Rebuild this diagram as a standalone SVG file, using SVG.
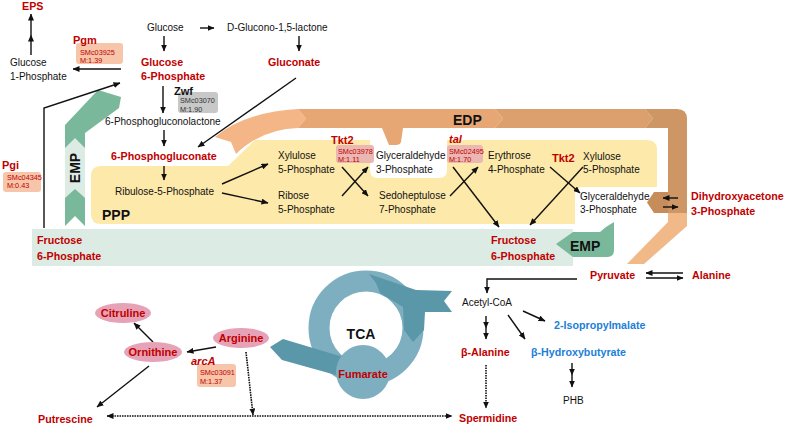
<svg xmlns="http://www.w3.org/2000/svg" width="787" height="426" viewBox="0 0 787 426">
<defs>
<style>
text{font-family:"Liberation Sans",Arial,sans-serif;font-size:10px;fill:#111}
.r{font-weight:bold;fill:#C00000;font-size:10.7px}
.bl{font-weight:bold;fill:#1C80D8;font-size:10.7px}
.en{font-weight:bold;fill:#C00000;font-size:11px}
.it{font-style:italic}
.sm{font-size:7.3px;fill:#C00000}
.smg{font-size:7.3px;fill:#333}
.big{font-weight:bold;font-size:14px;fill:#111}
.c{text-anchor:middle}
.ln{fill:none;stroke:#111;stroke-width:1.4}
.dot{fill:none;stroke:#111;stroke-width:1.6;stroke-dasharray:1.6 0.9}
.box{fill:#F7C5AA}
.pbox{fill:#EBB7B3}
.ell{fill:#E6A2B6}
</style>
<marker id="ah" markerUnits="userSpaceOnUse" markerWidth="7" markerHeight="6" refX="6.5" refY="3" orient="auto">
<path d="M0,0 L7,3 L0,6 Z" fill="#111"/>
</marker>
<marker id="ahs" markerUnits="userSpaceOnUse" markerWidth="7" markerHeight="6" refX="0.5" refY="3" orient="auto">
<path d="M7,0 L0,3 L7,6 Z" fill="#111"/>
</marker>
</defs>

<g id="ppp-region">
<path d="M91,176 Q91,166 101,166 L228,166 L255,140 L370,140 L370,170 Q370,178 378,178 L439,178 Q447,178 447,170 L447,140 L647,140 Q657,140 657,150 L657,187 L583,187 Q575,187 575,195 L575,224 L101,224 Q91,224 91,214 Z" fill="#FDE9A9"/>
</g>
<g id="f6p-band">
<rect x="32" y="229" width="541" height="37" fill="#DCEBE3"/>
</g>

<g id="edp-band">
<path d="M215,137 Q245,112 298,109 L306,118.5 L298,128 Q262,129 236,154 L231,142 Z" fill="#F4B686"/>
<path d="M298,109 L495,109 L503,118.5 L495,128 L403,128 L401,142 Q400,145 396,145 L389,145 L382,128 L298,128 L306,118.5 Z" fill="#E6A775"/>
<path d="M495,109 L645,109 L653,118.5 L645,128 L495,128 L503,118.5 Z" fill="#DBA06D"/>
<path d="M645,109 L677,109 Q687,109 687,119 L687,213 L668,213 L668,128 L645,128 L653,118.5 Z" fill="#CE9664"/>
<path d="M668,192 L654,192 L647,202.5 L654,213 L668,213 Z" fill="#C68C59"/>
<path d="M668,213 L687,213 L687,226 L644,264 L627,264 L668,222 Z" fill="#F1B888"/>
<text class="big" x="453" y="125">EDP</text>
</g>

<g id="emp-left">
<path d="M65,226 L65,125 L98,90 L121,97 L119,108 L85,133 L85,226 L75,216 Z" fill="#7AB89B"/>
<path d="M65,148 L75,138 L85,148 L85,198 L75,189 L65,198 Z" fill="#DCEBE3"/>
<text class="big c" transform="translate(80,168) rotate(-90)" x="0" y="0">EMP</text>
</g>

<g id="emp-right">
<path d="M556,244 L573,232 L600,232 L606,227 L614,222 L614,250 Q614,257 607,257 L573,257 Z" fill="#7AB89B"/>
<text class="big" x="570" y="251">EMP</text>
</g>

<g id="tca">
<circle cx="366" cy="328" r="47" fill="none" stroke="#7EAFC0" stroke-width="21"/>
<path d="M369,274 L416,290 L452,291 L444,301 L452,312 L425,312 L424,330 L413,342 L404,330 L403,307 L380,293 L376,283 Z" fill="#5A97A8"/>
<path d="M270,347 L283,339 L343,357 L343,377 L282,360 Z" fill="#5A97A8"/>
<circle cx="363" cy="372" r="27" fill="#7EAFC0"/>
<text class="big c" x="361" y="339">TCA</text>
<text class="en c" x="363" y="378">Fumarate</text>
</g>

<g id="connectors">
<polyline class="ln" points="31,55 31,35 31,14" marker-mid="url(#ah)" marker-end="url(#ah)"/>
<line class="ln" x1="121" y1="69" x2="73" y2="69" marker-end="url(#ah)"/>
<line class="ln" x1="200" y1="28" x2="214" y2="28" marker-end="url(#ah)"/>
<line class="ln" x1="164" y1="36" x2="164" y2="51" marker-end="url(#ah)"/>
<line class="ln" x1="299" y1="36" x2="299" y2="51" marker-end="url(#ah)"/>
<polyline class="ln" points="44,228 44,108 120,83" marker-end="url(#ah)"/>
<line class="ln" x1="163" y1="86" x2="163" y2="113" marker-end="url(#ah)"/>
<line class="ln" x1="164" y1="130" x2="164" y2="146" marker-end="url(#ah)"/>
<line class="ln" x1="296" y1="78" x2="198" y2="147" marker-end="url(#ah)"/>
<line class="ln" x1="164" y1="166" x2="164" y2="180" marker-end="url(#ah)"/>
<line class="ln" x1="222" y1="184" x2="268" y2="164" marker-end="url(#ah)"/>
<line class="ln" x1="222" y1="193" x2="268" y2="203" marker-end="url(#ah)"/>
<line class="ln" x1="342" y1="167" x2="368" y2="196" marker-end="url(#ah)"/>
<line class="ln" x1="342" y1="196" x2="368" y2="167" marker-end="url(#ah)"/>
<line class="ln" x1="453" y1="167" x2="499" y2="227" marker-end="url(#ah)"/>
<line class="ln" x1="450" y1="196" x2="478" y2="167" marker-end="url(#ah)"/>
<line class="ln" x1="550" y1="167" x2="580" y2="193" marker-end="url(#ah)"/>
<line class="ln" x1="583" y1="167" x2="530" y2="225" marker-end="url(#ah)"/>
<line class="ln" x1="678" y1="198" x2="663" y2="198" marker-end="url(#ah)"/>
<line class="ln" x1="663" y1="207" x2="678" y2="207" marker-end="url(#ah)"/>
<line class="ln" x1="683" y1="273" x2="646" y2="273" marker-end="url(#ah)" stroke-width="1.8"/>
<line class="ln" x1="646" y1="278" x2="683" y2="278" marker-end="url(#ah)" stroke-width="1.8"/>
<polyline class="ln" points="577,279 487,279 487,293" marker-end="url(#ah)"/>
<polyline class="ln" points="486,316 486,328 486,339" marker-mid="url(#ah)" marker-end="url(#ah)"/>
<line class="ln" x1="508" y1="315" x2="525" y2="339" marker-end="url(#ah)"/>
<line class="ln" x1="523" y1="311" x2="545" y2="321" marker-end="url(#ah)"/>
<polyline class="ln" points="572,363 572,375 572,387" marker-mid="url(#ah)" marker-end="url(#ah)"/>
<line class="dot" x1="486" y1="365" x2="486" y2="408" marker-end="url(#ah)"/>
<line class="dot" x1="107" y1="416" x2="452" y2="416" marker-start="url(#ahs)" marker-end="url(#ah)"/>
<line class="dot" x1="246" y1="352" x2="253" y2="415" marker-end="url(#ah)"/>
<line class="ln" x1="149" y1="366" x2="97" y2="407" marker-end="url(#ah)"/>
<line class="ln" x1="153" y1="342" x2="134" y2="323" marker-end="url(#ah)"/>
<line class="ln" x1="216" y1="347" x2="187" y2="352" marker-end="url(#ah)"/>
</g>

<g id="eps"><text class="r" x="22" y="10">EPS</text></g>
<g id="glucose-1p"><text x="10" y="66">Glucose</text><text x="10" y="80">1-Phosphate</text></g>
<g id="pgm">
<rect class="box" x="76" y="43" width="47" height="21" rx="3"/>
<text class="en" x="73" y="44">Pgm</text>
<text class="sm" x="80" y="55">SMc03925</text><text class="sm" x="80" y="63">M:1.39</text>
</g>
<g id="glucose"><text x="147" y="31">Glucose</text></g>
<g id="glucono-lactone"><text x="227" y="31">D-Glucono-1,5-lactone</text></g>
<g id="glucose-6p"><text class="r" x="141" y="66">Glucose</text><text class="r" x="141" y="80">6-Phosphate</text></g>
<g id="gluconate"><text class="r" x="268" y="66">Gluconate</text></g>
<g id="zwf">
<rect x="178" y="92" width="40" height="21" rx="3" fill="#C8C8C8"/>
<text style="font-weight:bold;font-size:11px" x="174" y="95">Zwf</text>
<text class="smg" x="180" y="103">SMc03070</text><text class="smg" x="180" y="112">M:1.90</text>
</g>
<g id="phosphogluconolactone"><text x="105" y="125">6-Phosphogluconolactone</text></g>
<g id="phosphogluconate"><text class="r" x="111" y="160">6-Phosphogluconate</text></g>
<g id="ribulose-5p"><text x="115" y="195">Ribulose-5-Phosphate</text></g>
<g id="ppp-label"><text class="big" x="102" y="220">PPP</text></g>
<g id="pgi">
<rect class="box" x="3" y="172" width="38" height="20" rx="3"/>
<text class="en" x="2" y="169">Pgi</text>
<text class="sm" x="7" y="180">SMc04345</text><text class="sm" x="7" y="188">M:0.43</text>
</g>
<g id="fructose-6p-left"><text class="r" x="37" y="244">Fructose</text><text class="r" x="37" y="260">6-Phosphate</text></g>
<g id="xylulose-5p"><text x="278" y="159">Xylulose</text><text x="278" y="173">5-Phosphate</text></g>
<g id="ribose-5p"><text x="278" y="199">Ribose</text><text x="278" y="213">5-Phosphate</text></g>
<g id="tkt2-a">
<rect class="pbox" x="336" y="145" width="38" height="18" rx="3"/>
<text class="en" x="331" y="144">Tkt2</text>
<text class="sm" x="338" y="154">SMc03978</text><text class="sm" x="338" y="162">M:1.11</text>
</g>
<g id="g3p-mid"><text x="376" y="159">Glyceraldehyde</text><text x="376" y="173">3-Phosphate</text></g>
<g id="sedoheptulose-7p"><text x="379" y="199">Sedoheptulose</text><text x="379" y="213">7-Phosphate</text></g>
<g id="tal">
<rect class="pbox" x="447" y="145" width="36" height="18" rx="3"/>
<text class="en it" x="449" y="143">tal</text>
<text class="sm" x="449" y="154">SMc02495</text><text class="sm" x="449" y="162">M:1.70</text>
</g>
<g id="erythrose-4p"><text x="488" y="159">Erythrose</text><text x="488" y="173">4-Phosphate</text></g>
<g id="tkt2-b"><text class="en" x="552" y="162">Tkt2</text></g>
<g id="xylulose-5p-b"><text x="583" y="160">Xylulose</text><text x="583" y="173">5-Phosphate</text></g>
<g id="g3p-right"><text x="580" y="200">Glyceraldehyde</text><text x="580" y="213">3-Phosphate</text></g>
<g id="dhap"><text class="r" x="691" y="200">Dihydroxyacetone</text><text class="r" x="691" y="215">3-Phosphate</text></g>
<g id="fructose-6p-right"><text class="r" x="491" y="244">Fructose</text><text class="r" x="491" y="260">6-Phosphate</text></g>
<g id="pyruvate"><text class="r" x="590" y="279">Pyruvate</text></g>
<g id="alanine"><text class="r" x="692" y="279">Alanine</text></g>
<g id="acetyl-coa"><text x="462" y="306">Acetyl-CoA</text></g>
<g id="isopropylmalate"><text class="bl" x="554" y="329">2-Isopropylmalate</text></g>
<g id="beta-alanine"><text class="r" x="461" y="356">β-Alanine</text></g>
<g id="beta-hydroxybutyrate"><text class="bl" x="531" y="356">β-Hydroxybutyrate</text></g>
<g id="phb"><text x="563" y="404">PHB</text></g>
<g id="spermidine"><text class="r" x="459" y="422">Spermidine</text></g>
<g id="putrescine"><text class="r" x="38" y="423">Putrescine</text></g>
<g id="citruline"><ellipse class="ell" cx="123" cy="313" rx="28" ry="10"/><text class="en c" x="123" y="317">Citruline</text></g>
<g id="ornithine"><ellipse class="ell" cx="153" cy="352" rx="29" ry="10"/><text class="en c" x="153" y="356">Ornithine</text></g>
<g id="arginine"><ellipse class="ell" cx="241" cy="338" rx="28" ry="10"/><text class="en c" x="241" y="342">Arginine</text></g>
<g id="arca">
<rect class="box" x="197" y="364" width="39" height="23" rx="3"/>
<text class="en it" x="191" y="365">arcA</text>
<text class="sm" x="200" y="375">SMc03091</text><text class="sm" x="200" y="384">M:1.37</text>
</g>
</svg>
